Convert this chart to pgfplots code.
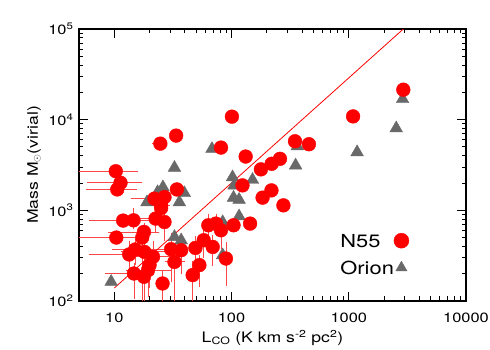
\documentclass[border=0pt]{standalone}
\usepackage{pgfplots}
\pgfplotsset{compat=1.18}
\usepackage{pgfplotstable}
\usepackage{fontspec}
\setmainfont{TeX Gyre Heros}[FakeStretch=1.22]
\definecolor{orion}{RGB}{105,105,105}
\definecolor{ebar}{RGB}{255,70,70}

\pgfplotstableread{
x y
24.7 5440
33.7 6670
100.7 10800
81.3 4920
132 3920
2920 21400
1089 10870
348 5780
457 5360
178 2830
220 3260
259 3700
124 1884
184 1380
219 1660
277 1135
144 714
104 684
10.3 2700
11.3 2013
10.6 1700
22.0 1346
26.8 1400
25.1 1135
34.2 1700
11.9 771
14.6 776
22.5 811
26.8 743
10.4 501
17.9 578
17.3 501
13.4 326
15.1 370
18.1 348
21.4 307
20.0 249
14.7 201
17.9 185
19.4 219
25.8 156
30.5 373
37.2 363
32.6 270
49.2 385
57.9 468
69.1 395
46.6 193
53.2 249
63.4 684
73.6 714
81.3 603
89.6 294
25.1 1060
24.2 1250
}\nfiftyfive

\pgfplotstableread{
x y
68.1 4760
32.6 2950
2877 16870
2540 8040
1178 4380
364 5090
352 3130
102 2320
151 2170
105 1880
104 1380
116 1310
116 860
84 743
39.6 1550
35.9 1230
26.0 1800
19.0 1230
23.4 1590
9.4 163
32.6 509
84 320
37.2 468
}\orion

\pgfplotstableread{
x y xm xp
10.3 2700 5.2 4.8
11.3 2013 5.1 5.0
10.6 1700 4.5 4.1
22.0 1346 7.4 3.0
24.7 5440 2.5 0.5
11.9 771 5.4 8.0
14.6 776 3.0 5.3
22.5 811 6.0 5.0
10.4 501 5.3 4.0
17.9 578 8.6 5.0
13.4 326 7.0 5.0
15.1 370 5.0 10.0
18.1 348 6.0 12.0
21.4 307 5.0 8.0
14.7 201 5.8 4.0
19.4 219 6.0 10.0
32.6 270 4.0 5.0
25.1 1135 5.0 3.0
}\xerr

\pgfplotstableread{
x y ym yp
25.1 1135 200 150
26.8 743 250 100
22.5 811 200 100
17.9 578 150 100
17.3 501 400 100
13.4 326 80 100
15.1 370 100 80
18.1 348 120 100
21.4 307 100 120
20.0 249 100 80
14.7 201 88 40
17.9 185 85 60
19.4 219 100 70
25.8 156 56 50
30.5 373 200 150
37.2 363 150 100
32.6 270 170 80
49.2 385 200 100
57.9 468 150 100
69.1 395 135 100
46.6 193 93 60
53.2 249 95 50
63.4 684 150 160
73.6 714 150 140
81.3 603 200 150
89.6 294 135 120
14.6 776 100 200
}\yerr

\begin{document}
\begin{tikzpicture}
\useasboundingbox (-79bp,-49bp) rectangle (411bp,301bp);
\begin{axis}[
  at={(0,0)}, anchor=south west,
  scale only axis, width=387bp, height=272bp,
  xmode=log, ymode=log,
  xmin=5, xmax=10000, ymin=100, ymax=100000,
  xtick={10,100,1000,10000}, xticklabels={10,100,1000,10000},
  ytick={100,1000,10000,100000},
  yticklabels={10\textsuperscript{2},10\textsuperscript{3},10\textsuperscript{4},10\textsuperscript{5}},
  tick align=inside, major tick length=9bp, minor tick length=4.5bp,
  every tick/.style={black, line width=1bp},
  axis line style={line width=1.6bp},
  tick label style={font=\fontsize{13.5}{15}\selectfont},
  xticklabel style={yshift=-8bp},
  yticklabel style={xshift=-2bp},
  xlabel={L\textsubscript{CO} (K km s\textsuperscript{-2} pc\textsuperscript{2})},
  ylabel={Mass M$_\odot$(virial)},
  label style={font=\fontsize{14.5}{16}\selectfont},
  xlabel style={at={(axis description cs:0.5,-0.152)}, anchor=base},
  ylabel style={at={(axis description cs:-0.116,0.5)}, anchor=center},
  legend cell align=left, legend plot pos=right,
  legend style={draw=none, fill=none, at={(axis description cs:0.675,0.25)}, anchor=north west,
    font=\fontsize{18}{20}\selectfont, row sep=13bp, inner sep=0pt,
    nodes={inner sep=0pt, text height=13bp, text depth=0bp}},
]
\addlegendimage{only marks, mark=*, mark size=7.5bp, color=red}
\addlegendentry{N55}
\addlegendimage{only marks, mark=triangle*, mark size=6.5bp, color=orion}
\addlegendentry{Orion}

\addplot[forget plot, only marks, mark=triangle*, mark size=7.3bp, color=orion] table[x=x,y=y]{\orion};
\addplot[forget plot, only marks, mark=*, mark size=6.9bp, color=red] table[x=x,y=y]{\nfiftyfive};
\addplot[forget plot, draw=none, mark=none,
  error bars/.cd, x dir=both, x explicit,
  error bar style={draw=ebar, line width=0.8bp},
  error mark options={draw=ebar, mark size=3bp, line width=0.8bp}]
  table[x=x, y=y, x error minus=xm, x error plus=xp]{\xerr};
\addplot[forget plot, draw=none, mark=none,
  error bars/.cd, y dir=both, y explicit,
  error bar style={draw=ebar, line width=0.8bp},
  error mark options={draw=ebar, mark size=3bp, line width=0.8bp}]
  table[x=x, y=y, y error minus=ym, y error plus=yp]{\yerr};
\addplot[forget plot, red, line width=0.8bp] coordinates {(10,139) (2920,100000)};
\end{axis}
\end{tikzpicture}
\end{document}
